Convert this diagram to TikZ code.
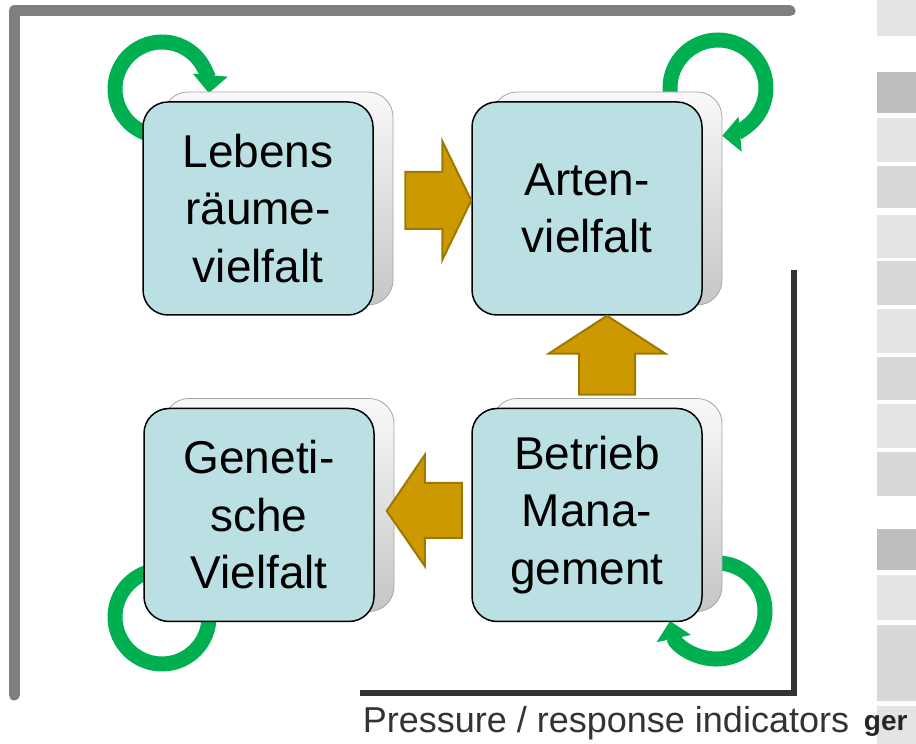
\documentclass[tikz,border=0pt]{standalone}
\usepackage{fontspec}
\setmainfont{Liberation Sans}
\usepackage{tikz}
\usetikzlibrary{arrows.meta,shadows}

\definecolor{boxfill}{HTML}{BBE0E3}
\definecolor{loopgreen}{HTML}{00B050}
\definecolor{gold}{HTML}{CC9900}
\definecolor{goldedge}{HTML}{9E7800}
\definecolor{framegray}{HTML}{7F7F7F}
\definecolor{framedark}{HTML}{333333}
\definecolor{barlight}{HTML}{E4E4E4}
\definecolor{barmid}{HTML}{D8D8D8}
\definecolor{bardark}{HTML}{BEBEBE}

\tikzset{
  box/.style={rectangle, rounded corners=25pt, minimum width=230pt, minimum height=213pt,
    fill=boxfill, draw=black, line width=1.5pt, align=center,
    font=\fontsize{46}{57.5}\selectfont,
    general shadow={shadow xshift=20pt, shadow yshift=10pt, top color=gray!5,
      bottom color=gray!45, draw=gray!70, line width=0.8pt}},
  selfloop/.style={draw=loopgreen, line width=15pt, -{Triangle[width=34pt,length=18pt]}},
  goldarrow/.style={fill=gold, draw=goldedge, line width=2pt},
}

\begin{document}
\begin{tikzpicture}[x=1pt,y=1pt]
        \useasboundingbox (0,0) rectangle (916,744);

        % slide strip on the right
        \foreach \ya/\yb/\c in {708/744/barlight, 631/672/bardark, 582/626/barlight,
            536/578/barmid, 486/529/barlight, 439/483/barmid, 391/435/barlight,
            344/387/barmid, 296/340/barlight, 248/292/barmid, 174/215/bardark,
            124/169/barlight, 43/119/barmid, 0/38/barlight}
            \fill[\c] (877,\ya) rectangle (916,\yb);

        % frames
        \draw[framegray, line width=11pt, line cap=round, line join=round]
            (14,49) -- (14,733) -- (790,733);
        \draw[framedark, line width=6pt] (794,474) -- (794,51) -- (360,51);

        % self loops
        \coordinate (lebensloop) at (162,655);
        \coordinate (artenloop) at (718,656);
        \coordinate (genloop) at (162,127);
        \coordinate (betriebloop) at (717,133);
        \draw[selfloop] ([shift={(-60:47pt)}]lebensloop) arc[start angle=-60, end angle=-365, radius=47pt];
        \draw[selfloop] ([shift={(190:48pt)}]artenloop) arc[start angle=190, end angle=-85, radius=48pt];
        \draw[selfloop] ([shift={(80:47pt)}]genloop) arc[start angle=80, end angle=390, radius=47pt];
        \draw[selfloop] ([shift={(100:48pt)}]betriebloop) arc[start angle=100, end angle=-168, radius=48pt];

        % boxes
        \node[box] (lebens) at (258,535.5) {Lebens\\räume-\\vielfalt};
        \node[box] (arten) at (587,535.5) {Arten-\\vielfalt};
        \node[box] (genetische) at (259,229) {Geneti-\\sche\\Vielfalt};
        \node[box] (betrieb) at (587,229) {Betrieb\\Mana-\\gement};

        % block arrows
        \draw[goldarrow] ([yshift=8pt]arten.west) -- ++(-29,59.5) -- ++(0,-31) -- ++(-37,0)
            -- ++(0,-57) -- ++(37,0) -- ++(0,-31) -- cycle;
        \draw[goldarrow] ([xshift=20pt]arten.south) -- ++(58.5,-38) -- ++(-30.5,0) -- ++(0,-41)
            -- ++(-56,0) -- ++(0,41) -- ++(-30.5,0) -- cycle;
        \draw[goldarrow] ([shift={(12,4)}]genetische.east) -- ++(38,56) -- ++(0,-28) -- ++(37,0)
            -- ++(0,-55) -- ++(-37,0) -- ++(0,-28) -- cycle;

        % texts
        \node[anchor=base, font=\fontsize{36}{43}\selectfont, text=black!80] (caption) at (606,11)
            {Pressure / response indicators};
        \node[anchor=base east, font=\bfseries\fontsize{28}{32}\selectfont, text=black!85] (cut) at (911,13) {ger};
    \end{tikzpicture}
\end{document}
